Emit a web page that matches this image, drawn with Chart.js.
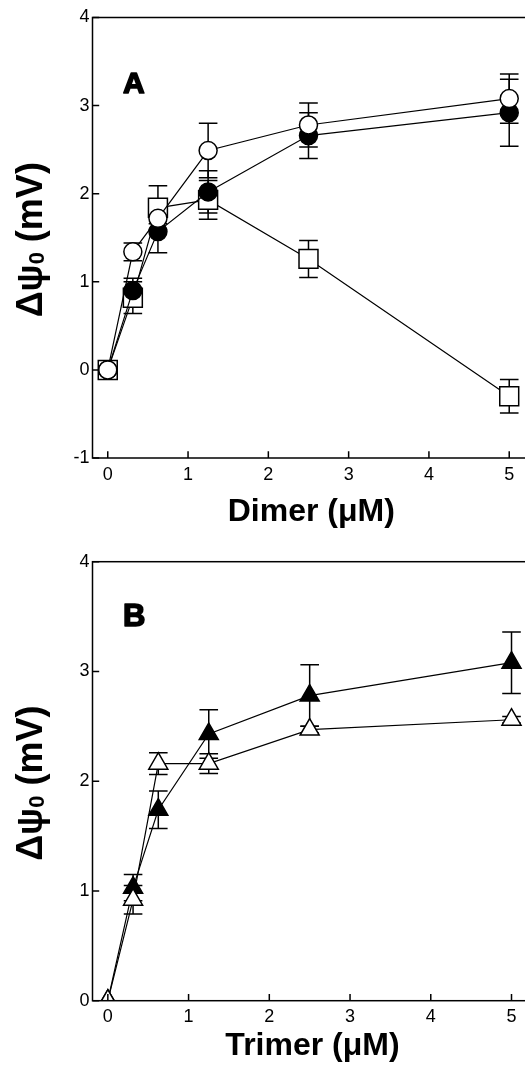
<!DOCTYPE html>
<html>
<head>
<meta charset="utf-8">
<script src="https://cdn.jsdelivr.net/npm/chart.js@4.4.1/dist/chart.umd.min.js"></script>
<style>
  html, body { margin: 0; padding: 0; background: #fff; overflow: hidden; }
  #wrap { width: 525px; height: 1072px; overflow: hidden; }
  canvas { display: block; }
</style>
</head>
<body>
<div id="wrap">
  <canvas id="chartA" width="545" height="536"></canvas>
  <canvas id="chartB" width="545" height="536"></canvas>
</div>
<script>
// concentrations (uM)
var xConc = [0, 0.3125, 0.625, 1.25, 2.5, 5];
var xTicks = [0, 1, 2, 3, 4, 5];
var yTicksA = [-1, 0, 1, 2, 3, 4];
var yTicksB = [0, 1, 2, 3, 4];

// panel A - dimer
var openCircle = [0, 1.34, 1.72, 2.49, 2.78, 3.08];
var openCircleErr = [0, 0.10, 0.06, 0.31, 0.25, 0.28];
var filledCircle = [0, 0.90, 1.57, 2.02, 2.66, 2.92];
var filledCircleErr = [0, 0.14, 0.24, 0.24, 0.26, 0.38];
var openSquare = [0, 0.82, 1.84, 1.93, 1.26, -0.30];
var openSquareErr = [0, 0.18, 0.25, 0.22, 0.21, 0.19];

// panel B - trimer
var filledTri = [0, 1.03, 1.74, 2.43, 2.78, 3.08];
var filledTriErr = [0, 0.12, 0.17, 0.22, 0.28, 0.28];
var openTri = [0, 0.92, 2.16, 2.16, 2.47, 2.56];
var openTriErr = [0, 0.13, 0.10, 0.09, 0.03, 0.03];

var FONT = '"Liberation Sans", Arial, sans-serif';

function pts(ys) {
  return xConc.map(function (x, i) { return { x: x, y: ys[i] }; });
}

function series(ys, errs, style, fill, radius) {
  return {
    data: pts(ys),
    errors: errs,
    borderColor: '#000',
    borderWidth: 1.2,
    pointStyle: style,
    pointRadius: radius,
    pointBackgroundColor: fill,
    pointBorderColor: '#000',
    pointBorderWidth: 1.5,
    tension: 0
  };
}

var framePlugin = {
  id: 'frame',
  beforeDatasetsDraw: function (chart) {
    var ctx = chart.ctx, xs = chart.scales.x, ys = chart.scales.y;
    ctx.save();
    ctx.strokeStyle = '#000';
    ctx.lineWidth = 1.5;
    chart.data.datasets.forEach(function (ds) {
      ds.data.forEach(function (p, i) {
        var e = ds.errors[i];
        if (!e) return;
        var px = xs.getPixelForValue(p.x);
        var top = ys.getPixelForValue(p.y + e);
        var bot = ys.getPixelForValue(p.y - e);
        ctx.beginPath();
        ctx.moveTo(px, top); ctx.lineTo(px, bot);
        ctx.moveTo(px - 9.3, top); ctx.lineTo(px + 9.3, top);
        ctx.moveTo(px - 9.3, bot); ctx.lineTo(px + 9.3, bot);
        ctx.stroke();
      });
    });
    ctx.restore();
  },
  afterDraw: function (chart, args, opts) {
    var ctx = chart.ctx, a = chart.chartArea, xs = chart.scales.x, ys = chart.scales.y;
    ctx.save();
    ctx.strokeStyle = '#000';
    ctx.fillStyle = '#000';
    ctx.lineWidth = 1.5;
    ctx.strokeRect(a.left, a.top, a.right - a.left, a.bottom - a.top);
    // inward ticks
    ctx.beginPath();
    xs.ticks.forEach(function (t) {
      var px = xs.getPixelForValue(t.value);
      ctx.moveTo(px, a.bottom); ctx.lineTo(px, a.bottom - 6.7);
    });
    ys.ticks.forEach(function (t) {
      var py = ys.getPixelForValue(t.value);
      ctx.moveTo(a.left, py); ctx.lineTo(a.left + 6.7, py);
    });
    ctx.stroke();

    // x title
    ctx.font = 'bold 32px ' + FONT;
    ctx.textAlign = 'center';
    ctx.textBaseline = 'alphabetic';
    ctx.fillText(opts.xTitle, (a.left + a.right) / 2, opts.titleY);

    // y title with subscript
    ctx.save();
    ctx.translate(42, (a.top + a.bottom) / 2 + 2);
    ctx.rotate(-Math.PI / 2);
    ctx.textAlign = 'left';
    var big = 'bold 36px ' + FONT, small = 'bold 22px ' + FONT;
    ctx.font = big;
    var w1 = ctx.measureText('\u0394\u03c8').width;
    var w3 = ctx.measureText(' (mV)').width;
    ctx.font = small;
    var w2 = ctx.measureText('0').width;
    var x0 = -(w1 + w2 + w3) / 2;
    ctx.font = big;
    ctx.fillText('\u0394\u03c8', x0, 0);
    ctx.font = small;
    ctx.fillText('0', x0 + w1, 2);
    ctx.font = big;
    ctx.fillText(' (mV)', x0 + w1 + w2, 0);
    ctx.restore();

    // panel letter
    ctx.font = 'bold ' + opts.letterSize + 'px ' + FONT;
    ctx.textAlign = 'left';
    ctx.lineWidth = 1.6;
    ctx.lineJoin = 'round';
    ctx.fillText(opts.letter, opts.letterX, opts.letterY);
    ctx.strokeText(opts.letter, opts.letterX, opts.letterY);
    ctx.restore();
  }
};

function makeChart(id, datasets, yMin, yTicks, topPad, xAxisH, title, titleY, letter, lx, ly, lsize) {
  return new Chart(document.getElementById(id), {
    type: 'line',
    data: { datasets: datasets },
    options: {
      responsive: false,
      animation: false,
      layout: { padding: { left: 0, right: 7, top: topPad, bottom: 0 } },
      plugins: {
        legend: { display: false },
        tooltip: { enabled: false },
        frame: { xTitle: title, titleY: titleY, letter: letter, letterX: lx, letterY: ly, letterSize: lsize }
      },
      scales: {
        x: {
          type: 'linear',
          min: -0.19,
          max: 5.26,
          grid: { display: false, drawTicks: false },
          border: { display: false },
          afterBuildTicks: function (s) { s.ticks = xTicks.map(function (v) { return { value: v }; }); },
          afterFit: function (s) { s.height = xAxisH; },
          ticks: { color: '#000', padding: 6, font: { family: FONT, size: 18 } }
        },
        y: {
          type: 'linear',
          min: yMin,
          max: 4,
          grid: { display: false, drawTicks: false },
          border: { display: false },
          afterBuildTicks: function (s) { s.ticks = yTicks.map(function (v) { return { value: v }; }); },
          afterFit: function (s) { s.width = 92.5; },
          ticks: { color: '#000', padding: 3, font: { family: FONT, size: 18 } }
        }
      }
    },
    plugins: [framePlugin]
  });
}

makeChart('chartA', [
  series(openCircle, openCircleErr, 'circle', '#fff', 9),
  series(filledCircle, filledCircleErr, 'circle', '#000', 9),
  series(openSquare, openSquareErr, 'rect', '#fff', 13.4)
], -1, yTicksA, 17.5, 78, 'Dimer (\u03bcM)', 521, 'A', 123, 93, 30);

makeChart('chartB', [
  series(openTri, openTriErr, 'triangle', '#fff', 11),
  series(filledTri, filledTriErr, 'triangle', '#000', 11)
], 0, yTicksB, 25.7, 71.3, 'Trimer (\u03bcM)', 519, 'B', 123, 90, 31);
</script>
</body>
</html>
